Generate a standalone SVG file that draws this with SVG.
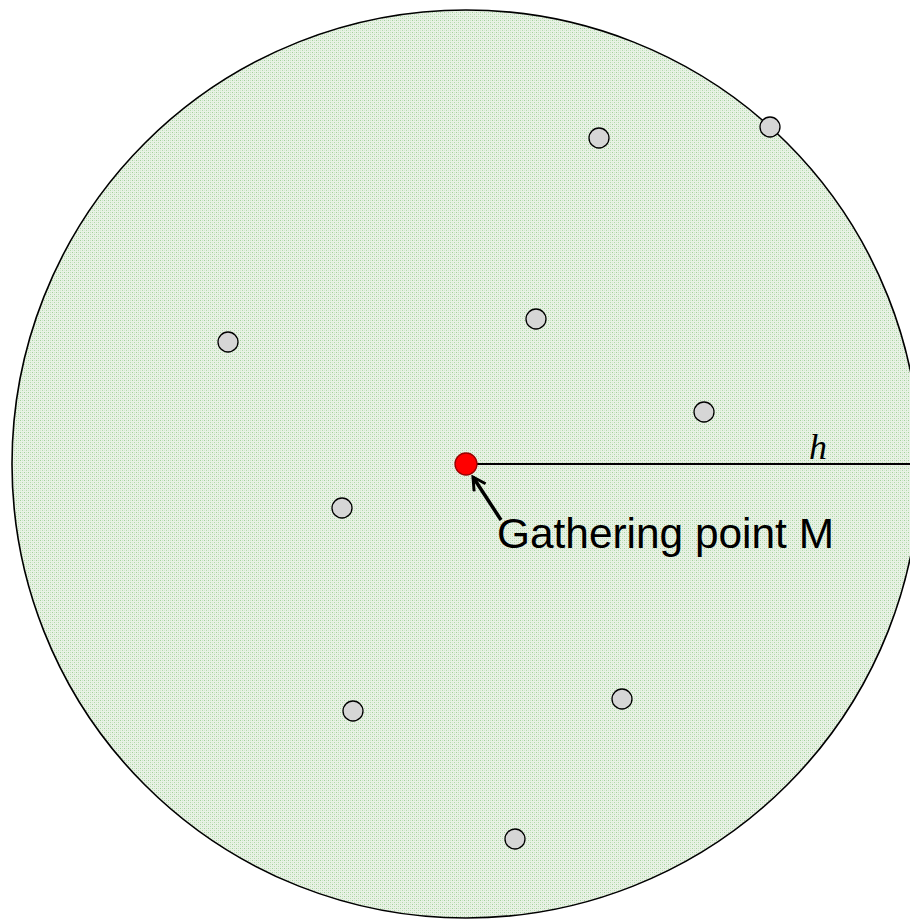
<svg xmlns="http://www.w3.org/2000/svg" width="910" height="919" viewBox="0 0 910 919">
<defs>
<pattern id="tex" width="4" height="4" patternUnits="userSpaceOnUse">
<rect width="4" height="4" fill="#e8f2e5"/>
<rect x="0" y="0" width="1" height="1" fill="#a3d19b"/>
<rect x="2" y="2" width="1" height="1" fill="#b4d9ac"/>
<rect x="2" y="0" width="1" height="1" fill="#cce5c6"/>
<rect x="0" y="2" width="1" height="1" fill="#d4e9cf"/>
</pattern>
<marker id="arr" viewBox="0 0 14 14" refX="12" refY="7" markerWidth="16" markerHeight="16" markerUnits="userSpaceOnUse" orient="auto">
<path d="M1,1 L12,7 L1,13" fill="none" stroke="#000" stroke-width="2.6"/>
</marker>
</defs>
<style>
.pt{fill:#d6d6d6;stroke:#000;stroke-width:1.3}
.lbl{font-family:"Liberation Sans",Arial,sans-serif;font-size:42.4px;fill:#000}
</style>
<rect width="910" height="919" fill="#fff"/>
<g id="region"><circle cx="466" cy="464" r="454" fill="url(#tex)" stroke="#000" stroke-width="1.6"/></g>
<g id="connectors">
<line x1="477" y1="464" x2="910" y2="464" stroke="#000" stroke-width="2"/>
<line x1="501" y1="520" x2="473" y2="477" stroke="#000" stroke-width="3.5" marker-end="url(#arr)"/>
</g>
<g id="nodes">
<g id="p1"><circle class="pt" cx="599" cy="138" r="10"/></g>
<g id="p2"><circle class="pt" cx="770" cy="127" r="10"/></g>
<g id="p3"><circle class="pt" cx="536" cy="319" r="10"/></g>
<g id="p4"><circle class="pt" cx="228" cy="342" r="10"/></g>
<g id="p5"><circle class="pt" cx="704" cy="412" r="10"/></g>
<g id="p6"><circle class="pt" cx="342" cy="508" r="10"/></g>
<g id="p7"><circle class="pt" cx="353" cy="711" r="10"/></g>
<g id="p8"><circle class="pt" cx="622" cy="699" r="10"/></g>
<g id="p9"><circle class="pt" cx="515" cy="839" r="10"/></g>
<g id="M"><circle cx="466" cy="464" r="11" fill="#ff0000" stroke="#900" stroke-width="1.3"/></g>
</g>
<text class="lbl" x="497" y="548">Gathering point M</text>
<text x="809" y="459" font-family="'Liberation Serif','Times New Roman',serif" font-style="italic" font-size="36">h</text>
</svg>
